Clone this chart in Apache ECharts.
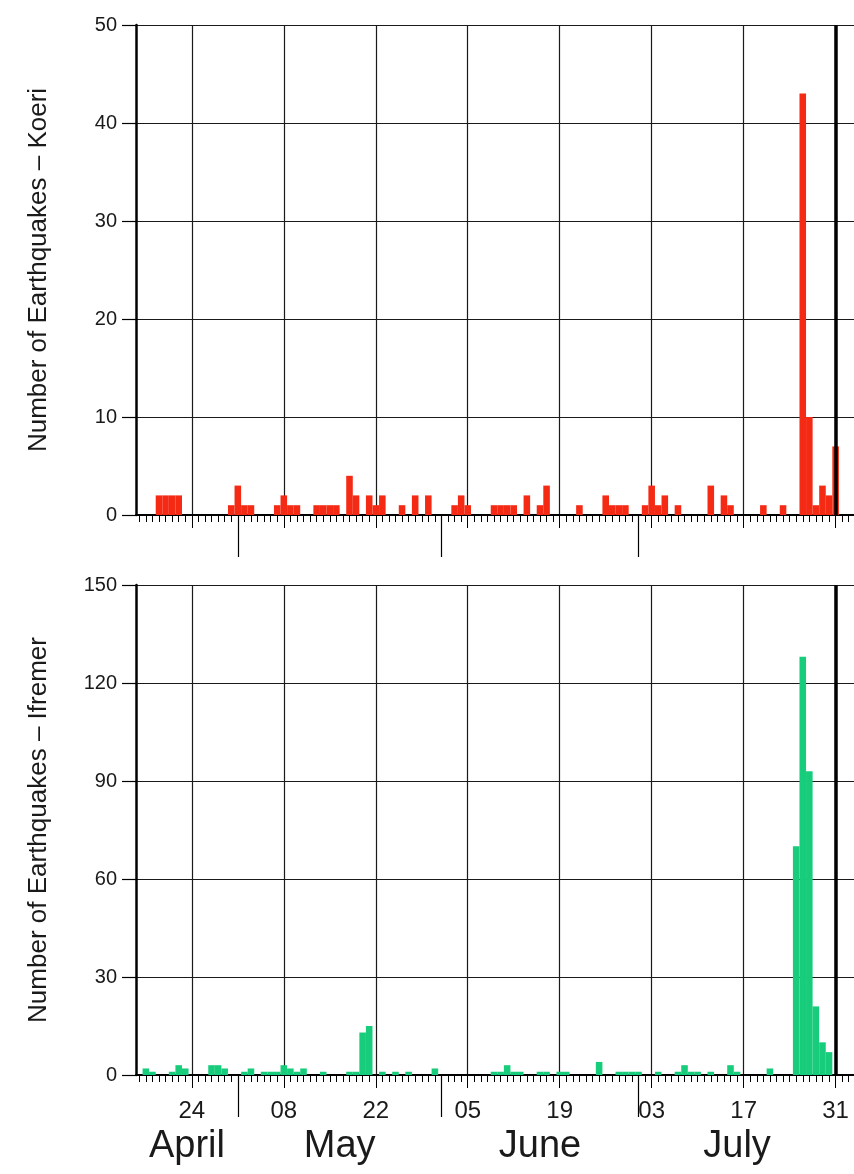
<!DOCTYPE html>
<html><head><meta charset="utf-8">
<script src="https://cdn.jsdelivr.net/npm/echarts@6/dist/echarts.min.js"></script>
<style>html,body{margin:0;padding:0;background:#fff}#c{width:854px;height:1174px}</style>
</head><body><div id="c"></div>
<script>
// ---- data (daily earthquake counts, MM-DD) ----
const koeriDates = ['04-19','04-20','04-21','04-22','04-30','05-01','05-02','05-03','05-07','05-08','05-09','05-10','05-13','05-14','05-15','05-16','05-18','05-19','05-21','05-22','05-23','05-26','05-28','05-30','06-03','06-04','06-05','06-09','06-10','06-11','06-12','06-14','06-16','06-17','06-22','06-26','06-27','06-28','06-29','07-02','07-03','07-04','07-05','07-07','07-12','07-14','07-15','07-20','07-23','07-26','07-27','07-28','07-29','07-30','07-31'];
const koeriCounts = [2,2,2,2, 1,3,1,1, 1,2,1,1, 1,1,1,1, 4,2, 2,1,2, 1, 2, 2, 1,2,1, 1,1,1,1, 2, 1,3, 1, 2,1,1,1, 1,3,1,2, 1, 3, 2,1, 1, 1, 43,10,1,3,2,7];

const ifremerDates = ['04-17','04-18','04-21','04-22','04-23','04-27','04-28','04-29','05-02','05-03','05-05','05-06','05-07','05-08','05-09','05-10','05-11','05-14','05-18','05-19','05-20','05-21','05-23','05-25','05-27','05-31','06-09','06-10','06-11','06-12','06-13','06-16','06-17','06-19','06-20','06-25','06-28','06-29','06-30','07-01','07-04','07-07','07-08','07-09','07-10','07-12','07-15','07-16','07-21','07-25','07-26','07-27','07-28','07-29','07-30'];
const ifremerCounts = [2,1,1,3,2,3,3,2,1,2,1,1,1,3,2,1,2,1,1,1,13,15,1,1,1,2,1,1,3,1,1,1,1,1,1,4,1,1,1,1,1,1,3,1,1,1,3,1,2,70,128,93,21,10,7];

const gridTickDates  = ['04-24','05-08','05-22','06-05','06-19','07-03','07-17','07-31'];
const gridTickLabels = ['24','08','22','05','19','03','17','31'];
const monthStartDates = ['05-01','06-01','07-01'];
const monthNames = ['April','May','June','July'];
const markerDate = '07-31';
const koeriAxisMax = 50, koeriStep = 10;
const ifremerAxisMax = 150, ifremerStep = 30;
const koeriName = 'Number of Earthquakes \u2013 Koeri';
const ifremerName = 'Number of Earthquakes \u2013 Ifremer';

// ---- helpers ----
const MONTH_OFFSET = {4: 0, 5: 30, 6: 61, 7: 91}; // days before the 1st of each month (from Mar 31)
function dayNum(md) { const p = md.split('-').map(Number); return MONTH_OFFSET[p[0]] + p[1]; }
const X_MIN = 15.5, X_MAX = 124.8;
const dailyTicks = []; for (let d = Math.ceil(X_MIN); d <= Math.floor(X_MAX); d++) dailyTicks.push(d);
const gridDays = gridTickDates.map(dayNum);
const gridLabelMap = {}; gridDays.forEach((v, i) => gridLabelMap[v] = gridTickLabels[i]);
const monthBounds = [X_MIN].concat(monthStartDates.map(dayNum), [dayNum(markerDate)]);
const monthMids = monthNames.map((n, i) => (monthBounds[i] + monthBounds[i + 1]) / 2);
const monthLabelMap = {}; monthMids.forEach((v, i) => monthLabelMap[v] = monthNames[i]);

const FONT = 'Liberation Sans, Arial, sans-serif';
const TXT = '#1a1a1a';
const LINE = '#000';
const GRIDC = '#1a1a1a';

function xAxes(gi, showLabels) {
  const base = {type: 'value', gridIndex: gi, min: X_MIN, max: X_MAX, position: 'bottom', offset: 0};
  return [
    Object.assign({}, base, {
      axisLine: {show: true, onZero: false, lineStyle: {color: LINE, width: 2}},
      axisTick: {show: true, customValues: dailyTicks, length: 7, lineStyle: {color: LINE, width: 1}},
      axisLabel: {show: false}, splitLine: {show: false}
    }),
    Object.assign({}, base, {
      axisLine: {show: false, onZero: false},
      axisTick: {show: true, customValues: gridDays, length: 13, lineStyle: {color: LINE, width: 1}},
      splitLine: {show: true, lineStyle: {color: GRIDC, width: 1.2}},
      axisLabel: {show: showLabels, customValues: gridDays, margin: 24, fontSize: 24, fontFamily: FONT, color: TXT,
        formatter: v => gridLabelMap[v] || ''}
    }),
    Object.assign({}, base, {
      axisLine: {show: false, onZero: false},
      axisTick: {show: true, customValues: monthStartDates.map(dayNum), length: 42, lineStyle: {color: LINE, width: 1.2}},
      splitLine: {show: false},
      axisLabel: {show: showLabels, customValues: monthMids, margin: 53, fontSize: 38, fontFamily: FONT, color: TXT,
        formatter: v => monthLabelMap[v] || ''}
    })
  ];
}

function yAxis(gi, max, step, name) {
  return {
    type: 'value', gridIndex: gi, min: 0, max: max, interval: step,
    name: name, nameLocation: 'middle', nameGap: 84, nameTextStyle: {fontSize: 26, fontFamily: FONT, color: TXT},
    axisLine: {show: true, lineStyle: {color: LINE, width: 2.5}},
    axisTick: {show: true, length: 14, lineStyle: {color: LINE, width: 1.2}},
    axisLabel: {fontSize: 20, fontFamily: FONT, color: TXT, margin: 19},
    splitLine: {show: true, lineStyle: {color: GRIDC, width: 1.2}}
  };
}

function markerLine() {
  return {symbol: ['none', 'none'], silent: true, animation: false, label: {show: false},
    lineStyle: {color: '#000', width: 3.5, type: 'solid'}, emphasis: {disabled: true},
    data: [{xAxis: dayNum(markerDate)}]};
}

const option = {
  animation: false,
  backgroundColor: '#fff',
  grid: [
    {left: 136, top: 25, width: 718, height: 490},
    {left: 136, top: 585, width: 718, height: 490}
  ],
  xAxis: xAxes(0, false).concat(xAxes(1, true)),
  yAxis: [yAxis(0, koeriAxisMax, koeriStep, koeriName), yAxis(1, ifremerAxisMax, ifremerStep, ifremerName)],
  series: [
    {type: 'bar', xAxisIndex: 0, yAxisIndex: 0, barWidth: '100%', itemStyle: {color: '#f52a14'},
      data: koeriDates.map((d, i) => [dayNum(d), koeriCounts[i]]), markLine: markerLine()},
    {type: 'bar', xAxisIndex: 3, yAxisIndex: 1, barWidth: '100%', itemStyle: {color: '#17cc7a'},
      data: ifremerDates.map((d, i) => [dayNum(d), ifremerCounts[i]]), markLine: markerLine()}
  ]
};
const chart = echarts.init(document.getElementById('c'), null, {renderer: 'canvas'});
chart.setOption(option);
</script></body></html>
